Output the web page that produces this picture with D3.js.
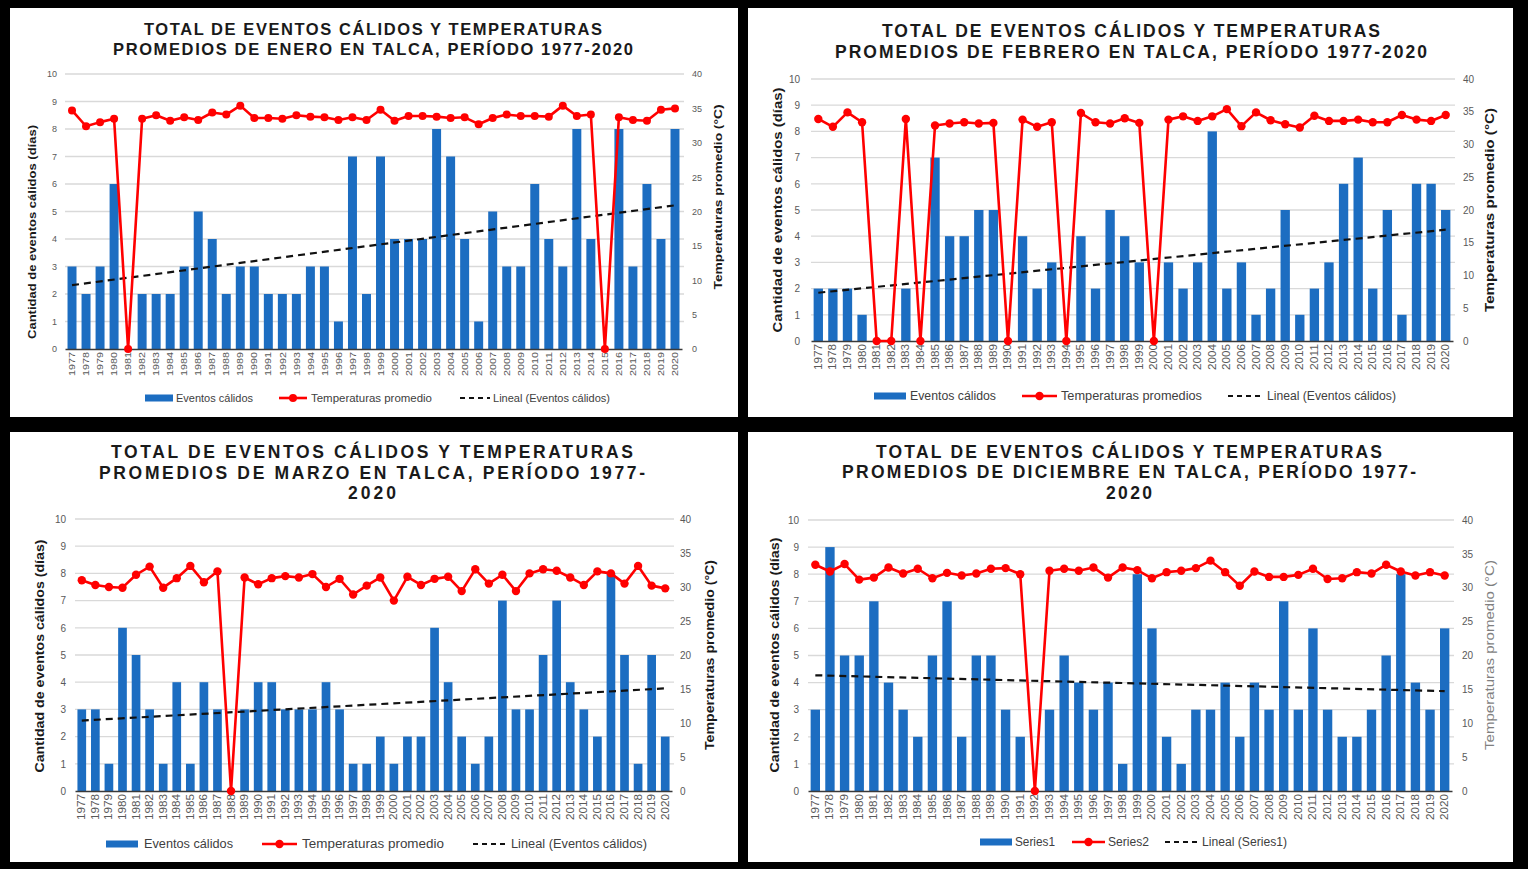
<!DOCTYPE html>
<html>
<head>
<meta charset="utf-8">
<script src="https://cdn.jsdelivr.net/npm/d3@7"></script>
<style>
  html, body { margin: 0; padding: 0; background: #000; }
  svg { display: block; }
</style>
</head>
<body>
<svg id="chart" width="1528" height="869"></svg>
<script>
// ---- Data ----
const years = [1977,1978,1979,1980,1981,1982,1983,1984,1985,1986,
               1987,1988,1989,1990,1991,1992,1993,1994,1995,1996,
               1997,1998,1999,2000,2001,2002,2003,2004,2005,2006,
               2007,2008,2009,2010,2011,2012,2013,2014,2015,2016,
               2017,2018,2019,2020];
const leftTicks = [0,1,2,3,4,5,6,7,8,9,10];
const rightTicks = [0,5,10,15,20,25,30,35,40];

const eneroEventos = [3,2,3,6,0,2,2,2,3,5, 4,2,3,3,2,2,2,3,3,1, 7,2,7,4,4,4,8,7,4,1, 5,3,3,6,4,3,8,4,0,8, 3,6,4,8];
const eneroTemp = [34.7,32.4,33.0,33.5,0,33.5,34.0,33.2,33.7,33.3,
                   34.4,34.1,35.4,33.6,33.6,33.5,34.0,33.8,33.7,33.3,
                   33.7,33.3,34.8,33.2,33.9,33.9,33.8,33.6,33.7,32.7,
                   33.6,34.1,33.9,33.9,33.8,35.4,33.9,34.1,0,33.7,
                   33.3,33.2,34.8,35.0];

const febreroEventos = [2,2,2,1,0,0,2,0,7,4, 4,5,5,0,4,2,3,0,4,2, 5,4,3,0,3,2,3,8,2,3, 1,2,5,1,2,3,6,7,2,5, 1,6,6,5];
const febreroTemp = [33.9,32.7,34.9,33.4,0,0,33.9,0,32.9,33.2,
                     33.4,33.2,33.3,0,33.8,32.7,33.4,0,34.8,33.4,
                     33.2,34.0,33.3,0,33.8,34.3,33.6,34.3,35.4,32.8,
                     34.9,33.7,33.1,32.6,34.4,33.6,33.6,33.8,33.4,33.4,
                     34.5,33.8,33.6,34.5];

const marzoEventos = [3,3,1,6,5,3,1,4,1,4, 3,0,3,4,4,3,3,3,4,3, 1,1,2,1,2,2,6,4,2,1, 2,7,3,3,5,7,4,3,2,8, 5,1,5,2];
const marzoTemp = [31.0,30.3,30.0,29.9,31.8,33.0,29.9,31.3,33.1,30.7,
                   32.3,0,31.4,30.4,31.3,31.6,31.4,31.9,30.0,31.2,
                   28.9,30.2,31.4,28.0,31.5,30.3,31.2,31.5,29.4,32.6,
                   30.5,31.8,29.4,32.0,32.6,32.4,31.4,30.3,32.3,32.0,
                   30.5,33.1,30.2,29.8];

const diciembreEventos = [3,9,5,5,7,4,3,2,5,7, 2,5,5,3,2,0,3,5,4,3, 4,1,8,6,2,1,3,3,4,2, 4,3,7,3,6,3,2,2,3,5, 8,4,3,6];
const diciembreTemp = [33.4,32.4,33.5,31.2,31.5,33.0,32.1,32.8,31.4,32.2,
                       31.8,32.1,32.8,32.9,32.0,0,32.5,32.8,32.5,33.0,
                       31.5,33.0,32.6,31.4,32.3,32.5,32.9,34.0,32.3,30.3,
                       32.4,31.6,31.6,31.9,32.8,31.3,31.4,32.3,32.1,33.4,
                       32.4,31.8,32.3,31.8];

// ---- Styles ----
const BLUE = "#1c6dc1";
const RED = "#ff0000";
const FONT = "'Liberation Sans', Arial, sans-serif";
const TICK_GRAY = "#595959";

const svg = d3.select("#chart");
svg.append("rect").attr("width", 1528).attr("height", 869).attr("fill", "#000");

// Least-squares linear trend over the series index (as a spreadsheet trendline does)
function linearFit(vals) {
  const xs = vals.map((_, i) => i + 1);
  const mx = d3.mean(xs), my = d3.mean(vals);
  let sxy = 0, sxx = 0;
  xs.forEach((x, i) => { sxy += (x - mx) * (vals[i] - my); sxx += (x - mx) * (x - mx); });
  const b = sxy / sxx, a = my - b * mx;
  return xs.map(x => a + b * x);
}

function drawPanel(p) {
  const g = svg.append("g");
  g.append("rect")
    .attr("x", p.box.x).attr("y", p.box.y)
    .attr("width", p.box.w).attr("height", p.box.h)
    .attr("fill", "#fff");

  // Title: spaced capitals
  p.title.forEach((t, i) => {
    const el = g.append("text")
      .attr("x", p.titleX).attr("y", p.titleY[i]).attr("dy", "0.35em")
      .attr("text-anchor", "middle")
      .attr("font-family", FONT).attr("font-weight", "bold")
      .attr("font-size", p.titleSize).attr("fill", "#1a1a1a")
      .text(t);
    if (p.titleLen[i]) el.attr("textLength", p.titleLen[i]).attr("lengthAdjust", "spacing");
  });

  const x = d3.scaleBand().domain(years)
    .range([p.plot.x0, p.plot.x1]).paddingInner(0.36).paddingOuter(0.18);
  const yL = d3.scaleLinear().domain([0, 10]).range([p.plot.yB, p.plot.yT]);
  const yR = d3.scaleLinear().domain([0, 40]).range([p.plot.yB, p.plot.yT]);
  const bw = x.bandwidth();
  const cx = i => x(years[i]) + bw / 2;

  // Gridlines
  g.append("g").selectAll("line").data(leftTicks.slice(1)).join("line")
    .attr("x1", p.plot.x0).attr("x2", p.plot.x1 + 2)
    .attr("y1", d => yL(d)).attr("y2", d => yL(d))
    .attr("stroke", "#d9d9d9").attr("stroke-width", 1.3);

  // Left axis
  const axL = g.append("g").attr("transform", `translate(${p.plot.x0},0)`)
    .call(d3.axisLeft(yL).tickValues(leftTicks).tickSize(0).tickPadding(p.tickPadL));
  axL.select(".domain").remove();
  axL.selectAll("text").attr("font-family", FONT).attr("font-size", p.tickFont).attr("fill", TICK_GRAY);

  // Right axis
  const axR = g.append("g").attr("transform", `translate(${p.plot.x1},0)`)
    .call(d3.axisRight(yR).tickValues(rightTicks).tickSize(0).tickPadding(p.tickPadR));
  axR.select(".domain").remove();
  axR.selectAll("text").attr("font-family", FONT).attr("font-size", p.tickFont).attr("fill", TICK_GRAY);

  // Bars
  g.append("g").selectAll("rect").data(p.eventos).join("rect")
    .attr("x", (d, i) => x(years[i])).attr("y", d => yL(d))
    .attr("width", bw).attr("height", d => yL(0) - yL(d))
    .attr("fill", BLUE);

  // Category axis with rotated years
  const axB = g.append("g").attr("transform", `translate(0,${p.plot.yB})`)
    .call(d3.axisBottom(x).tickSize(0).tickSizeOuter(0).tickPadding(0));
  axB.select(".domain").attr("stroke", "#3a3a3a").attr("stroke-width", 1.6);
  axB.selectAll("text")
    .attr("transform", "rotate(-90)")
    .attr("text-anchor", "end")
    .attr("x", -3).attr("y", 0).attr("dy", "0.35em")
    .attr("font-family", FONT).attr("font-size", p.yearFont).attr("fill", TICK_GRAY)
    .attr("textLength", p.yearLen).attr("lengthAdjust", "spacingAndGlyphs");

  // Trend line of the bar series
  const fit = linearFit(p.eventos);
  g.append("line")
    .attr("x1", cx(0)).attr("y1", yL(fit[0]))
    .attr("x2", cx(fit.length - 1)).attr("y2", yL(fit[fit.length - 1]))
    .attr("stroke", "#111").attr("stroke-width", 2.2).attr("stroke-dasharray", "7,5");

  // Temperature line with markers
  const line = d3.line().x((d, i) => cx(i)).y(d => yR(d));
  g.append("path").datum(p.temps).attr("d", line)
    .attr("fill", "none").attr("stroke", RED).attr("stroke-width", 2.6)
    .attr("stroke-linejoin", "round");
  g.append("g").selectAll("circle").data(p.temps).join("circle")
    .attr("cx", (d, i) => cx(i)).attr("cy", d => yR(d)).attr("r", p.markerR)
    .attr("fill", RED);

  // Axis titles
  const lt = p.leftTitle;
  g.append("text")
    .attr("transform", `translate(${lt.x},${lt.cy}) rotate(-90)`)
    .attr("text-anchor", "middle").attr("dy", "0.35em")
    .attr("font-family", FONT).attr("font-weight", "bold")
    .attr("font-size", lt.size).attr("fill", "#1a1a1a")
    .attr("textLength", lt.len).attr("lengthAdjust", "spacingAndGlyphs")
    .text("Cantidad de eventos cálidos (días)");
  const rt = p.rightTitle;
  g.append("text")
    .attr("transform", `translate(${rt.x},${rt.cy}) rotate(-90)`)
    .attr("text-anchor", "middle").attr("dy", "0.35em")
    .attr("font-family", FONT).attr("font-weight", rt.weight)
    .attr("font-size", rt.size).attr("fill", rt.color)
    .attr("textLength", rt.len).attr("lengthAdjust", "spacingAndGlyphs")
    .text("Temperaturas promedio (°C)");

  // Legend
  const lg = g.append("g");
  p.legend.forEach(item => {
    const y = p.legendY;
    if (item.kind === "bar") {
      lg.append("rect").attr("x", item.sx).attr("y", y - 3.5)
        .attr("width", item.sw).attr("height", 7).attr("fill", BLUE);
    } else if (item.kind === "line") {
      lg.append("line").attr("x1", item.sx).attr("x2", item.sx + item.sw)
        .attr("y1", y).attr("y2", y).attr("stroke", RED).attr("stroke-width", 2.6);
      lg.append("circle").attr("cx", item.sx + item.sw / 2).attr("cy", y).attr("r", p.markerR).attr("fill", RED);
    } else {
      lg.append("line").attr("x1", item.sx).attr("x2", item.sx + item.sw)
        .attr("y1", y).attr("y2", y).attr("stroke", "#111").attr("stroke-width", 2)
        .attr("stroke-dasharray", "5,4");
    }
    lg.append("text").attr("x", item.tx).attr("y", y).attr("dy", "0.35em")
      .attr("font-family", FONT).attr("font-size", p.legendFont).attr("fill", "#404040")
      .attr("textLength", item.tl).attr("lengthAdjust", "spacingAndGlyphs")
      .text(item.label);
  });
}

const panels = [
  {
    box: { x: 10, y: 8, w: 728, h: 409 },
    title: ["TOTAL DE EVENTOS CÁLIDOS Y TEMPERATURAS", "PROMEDIOS DE ENERO EN TALCA, PERÍODO 1977-2020"],
    titleX: 373, titleY: [29, 49], titleLen: [458, 520], titleSize: 16.5,
    plot: { x0: 65, x1: 682, yT: 74, yB: 349 },
    tickFont: 9, tickPadL: 8, tickPadR: 10, yearFont: 9, yearLen: 24, markerR: 4,
    leftTitle: { x: 32, cy: 232, size: 11, len: 214 },
    rightTitle: { x: 718, cy: 197, size: 11.5, len: 185, weight: "bold", color: "#1a1a1a" },
    legendY: 398, legendFont: 10.5,
    legend: [
      { kind: "bar", sx: 145, sw: 28, tx: 176, tl: 77, label: "Eventos cálidos" },
      { kind: "line", sx: 279, sw: 28, tx: 311, tl: 121, label: "Temperaturas promedio" },
      { kind: "dash", sx: 460, sw: 30, tx: 493, tl: 117, label: "Lineal (Eventos cálidos)" }
    ],
    eventos: eneroEventos, temps: eneroTemp
  },
  {
    box: { x: 748, y: 8, w: 765, h: 409 },
    title: ["TOTAL DE EVENTOS CÁLIDOS Y TEMPERATURAS", "PROMEDIOS DE FEBRERO EN TALCA, PERÍODO 1977-2020"],
    titleX: 1131, titleY: [31, 52], titleLen: [498, 592], titleSize: 17.5,
    plot: { x0: 811, x1: 1453, yT: 79, yB: 341 },
    tickFont: 10, tickPadL: 11, tickPadR: 10, yearFont: 10, yearLen: 26, markerR: 4.2,
    leftTitle: { x: 777, cy: 210, size: 13.5, len: 245 },
    rightTitle: { x: 1490, cy: 210, size: 12.5, len: 204, weight: "bold", color: "#1a1a1a" },
    legendY: 396, legendFont: 12,
    legend: [
      { kind: "bar", sx: 874, sw: 32, tx: 910, tl: 86, label: "Eventos cálidos" },
      { kind: "line", sx: 1022, sw: 35, tx: 1061, tl: 141, label: "Temperaturas promedios" },
      { kind: "dash", sx: 1228, sw: 34, tx: 1267, tl: 129, label: "Lineal (Eventos cálidos)" }
    ],
    eventos: febreroEventos, temps: febreroTemp
  },
  {
    box: { x: 10, y: 432, w: 728, h: 430 },
    title: ["TOTAL DE EVENTOS CÁLIDOS Y TEMPERATURAS", "PROMEDIOS DE MARZO EN TALCA, PERÍODO 1977-", "2020"],
    titleX: 372, titleY: [452, 473, 493], titleLen: [522, 546, 48], titleSize: 17.5,
    plot: { x0: 75, x1: 672, yT: 519, yB: 791 },
    tickFont: 10, tickPadL: 9, tickPadR: 8, yearFont: 10, yearLen: 26, markerR: 4.2,
    leftTitle: { x: 40, cy: 656, size: 12.5, len: 233 },
    rightTitle: { x: 710, cy: 655, size: 12, len: 190, weight: "bold", color: "#1a1a1a" },
    legendY: 844, legendFont: 12,
    legend: [
      { kind: "bar", sx: 106, sw: 32, tx: 144, tl: 89, label: "Eventos cálidos" },
      { kind: "line", sx: 262, sw: 35, tx: 302, tl: 142, label: "Temperaturas promedio" },
      { kind: "dash", sx: 473, sw: 32, tx: 511, tl: 136, label: "Lineal (Eventos cálidos)" }
    ],
    eventos: marzoEventos, temps: marzoTemp
  },
  {
    box: { x: 748, y: 432, w: 765, h: 430 },
    title: ["TOTAL DE EVENTOS CÁLIDOS Y TEMPERATURAS", "PROMEDIOS DE DICIEMBRE EN TALCA, PERÍODO 1977-", "2020"],
    titleX: 1129, titleY: [452, 472, 493], titleLen: [506, 574, 46], titleSize: 17.5,
    plot: { x0: 808, x1: 1452, yT: 520, yB: 791 },
    tickFont: 10, tickPadL: 9, tickPadR: 10, yearFont: 10, yearLen: 26, markerR: 4.2,
    leftTitle: { x: 775, cy: 655, size: 12.5, len: 235 },
    rightTitle: { x: 1490, cy: 655, size: 12, len: 190, weight: "normal", color: "#7f7f7f" },
    legendY: 842, legendFont: 12,
    legend: [
      { kind: "bar", sx: 980, sw: 32, tx: 1015, tl: 40, label: "Series1" },
      { kind: "line", sx: 1072, sw: 33, tx: 1108, tl: 41, label: "Series2" },
      { kind: "dash", sx: 1165, sw: 33, tx: 1202, tl: 85, label: "Lineal (Series1)" }
    ],
    eventos: diciembreEventos, temps: diciembreTemp
  }
];

panels.forEach(drawPanel);
</script>
</body>
</html>
